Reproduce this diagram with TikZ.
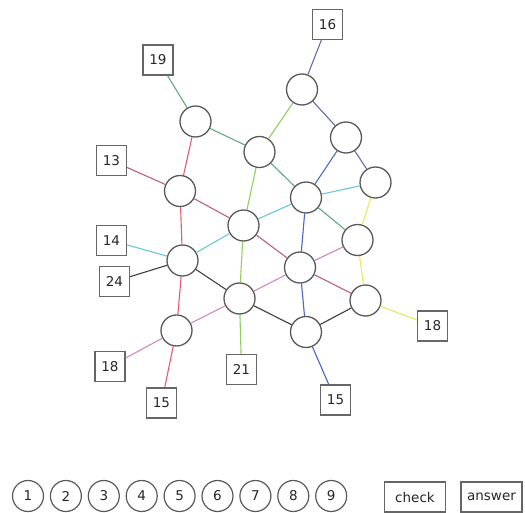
\documentclass[tikz,border=0pt]{standalone}
\usepackage{fontspec}
\setmainfont{DejaVu Sans}
\usepackage{tikz}

\begin{document}
\begin{tikzpicture}[x=1pt,y=-1pt,
  cell/.style={circle,draw=black!65,line width=1.3pt,minimum size=31pt,inner sep=0pt},
  sumbox/.style={draw=black!60,line width=1.3pt,minimum size=30pt,inner sep=0pt,text=black!85,font=\fontsize{13.5}{16}\selectfont},
  pick/.style={circle,draw=black!65,line width=1.2pt,minimum size=31pt,inner sep=0pt,text=black!85,font=\fontsize{13.5}{16}\selectfont},
  btn/.style={draw=black!60,line width=1.3pt,minimum width=61pt,minimum height=30pt,inner sep=0pt,text=black!85,font=\fontsize{13.5}{16}\selectfont},
  edge/.style={line width=1.1pt}]
% Line colours
\definecolor{redline}{RGB}{230,90,110}
\definecolor{roseline}{RGB}{190,95,125}
\definecolor{pinkline}{RGB}{210,135,195}
\definecolor{cyanline}{RGB}{105,200,215}
\definecolor{greenline}{RGB}{145,205,95}
\definecolor{tealline}{RGB}{95,170,125}
\definecolor{blueline}{RGB}{75,100,200}
\definecolor{slateline}{RGB}{105,105,170}
\definecolor{grayline}{RGB}{60,60,60}
\definecolor{yellowline}{RGB}{232,232,90}

\useasboundingbox (0,0) rectangle (525,513);

% Draw empty cells
\node[cell] (n1)  at (195.5,121.5) {};
\node[cell] (n2)  at (302,89.5) {};
\node[cell] (n3)  at (259.5,152) {};
\node[cell] (n4)  at (346,137.5) {};
\node[cell] (n5)  at (375.5,182.5) {};
\node[cell] (n6)  at (180,191) {};
\node[cell] (n7)  at (306,197.5) {};
\node[cell] (n8)  at (243.5,225.5) {};
\node[cell] (n9)  at (357.5,240) {};
\node[cell] (n10) at (182.5,260.5) {};
\node[cell] (n11) at (300,267.5) {};
\node[cell] (n12) at (239.5,298.5) {};
\node[cell] (n13) at (365.5,300.5) {};
\node[cell] (n14) at (176.5,330.5) {};
\node[cell] (n15) at (306,332) {};

% Draw line sums
\node[sumbox] (s16)  at (327.5,24.5) {16};
\node[sumbox] (s19)  at (158,60) {19};
\node[sumbox] (s13)  at (111.5,160.5) {13};
\node[sumbox] (s14)  at (111.5,240.5) {14};
\node[sumbox] (s24)  at (114.5,281.5) {24};
\node[sumbox] (s18a) at (110,366.5) {18};
\node[sumbox] (s15a) at (161.5,403) {15};
\node[sumbox] (s21)  at (241.5,369.5) {21};
\node[sumbox] (s15b) at (335.5,400) {15};
\node[sumbox] (s18b) at (432.5,326) {18};

% Draw lines through the cells
\draw[edge,slateline]  (s16) -- (n2) -- (n4) -- (n5);
\draw[edge,tealline]   (s19) -- (n1) -- (n3) -- (n7) -- (n9);
\draw[edge,roseline]   (s13) -- (n6) -- (n8) -- (n11) -- (n13);
\draw[edge,cyanline]   (s14) -- (n10) -- (n8) -- (n7) -- (n5);
\draw[edge,grayline]   (s24) -- (n10) -- (n12) -- (n15) -- (n13);
\draw[edge,pinkline]   (s18a) -- (n14) -- (n12) -- (n11) -- (n9);
\draw[edge,redline]    (s15a) -- (n14) -- (n10) -- (n6) -- (n1);
\draw[edge,greenline]  (s21) -- (n12) -- (n8) -- (n3) -- (n2);
\draw[edge,blueline]   (s15b) -- (n15) -- (n11) -- (n7) -- (n4);
\draw[edge,yellowline] (s18b) -- (n13) -- (n9) -- (n5);

% Draw number picker
\foreach \i in {1,...,9}
  \node[pick] (p\i) at ({28+37.9*(\i-1)},496) {\i};

% Add buttons
\node[btn] (check)  at (415,497) {check};
\node[btn] (answer) at (491.5,497) {answer};
\end{tikzpicture}
\end{document}
